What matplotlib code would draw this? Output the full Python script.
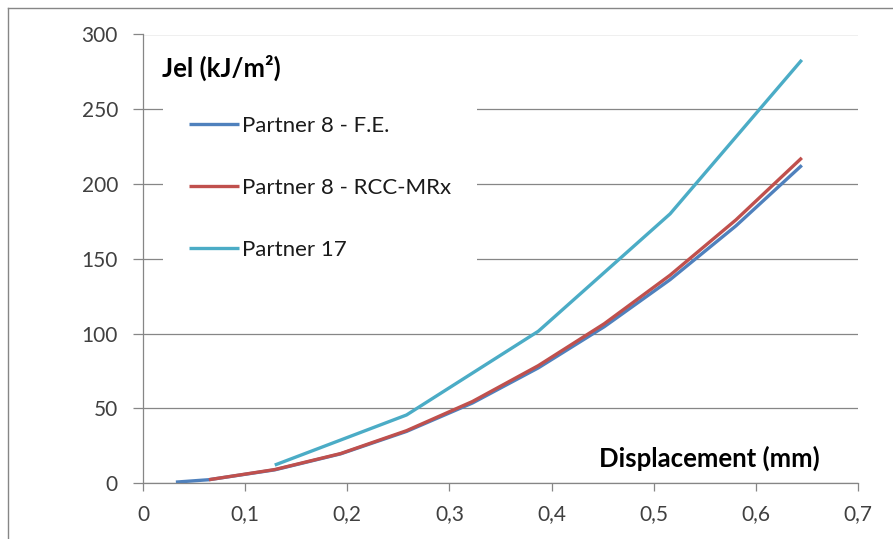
import matplotlib.pyplot as plt
from matplotlib import ticker
from matplotlib.lines import Line2D

# values
x_fe = [0.0322, 0.0645, 0.129, 0.1935, 0.258, 0.3225, 0.387, 0.4515, 0.516, 0.5805, 0.645]
y_fe = [0.6, 2.2, 8.8, 19.5, 34.5, 53.5, 77.0, 104.5, 136.0, 172.0, 212.5]

x_rcc = [0.0645, 0.129, 0.1935, 0.258, 0.3225, 0.387, 0.4515, 0.516, 0.5805, 0.645]
y_rcc = [2.2, 9.0, 19.7, 35.0, 54.5, 78.5, 106.5, 139.0, 176.0, 217.5]

x_p17 = [0.129, 0.258, 0.387, 0.516, 0.645]
y_p17 = [12.0, 45.5, 101.5, 180.0, 283.0]

x_ticks = [0, 0.1, 0.2, 0.3, 0.4, 0.5, 0.6, 0.7]
x_ticklabels = ["0", "0,1", "0,2", "0,3", "0,4", "0,5", "0,6", "0,7"]
y_ticks = [0, 50, 100, 150, 200, 250, 300]

plt.rcParams["font.family"] = ["Lato", "DejaVu Sans"]
grey = "#868686"
txt = "#404040"

fig = plt.figure(figsize=(8.93, 5.39), dpi=100)
ax = fig.add_axes([143 / 893, 1 - 483 / 539, 715 / 893, 448.5 / 539])

ax.plot(x_fe, y_fe, color="#4F81BD", lw=2.4, label="Partner 8 - F.E.", solid_capstyle="butt")
ax.plot(x_rcc, y_rcc, color="#C0504D", lw=2.4, label="Partner 8 - RCC-MRx", solid_capstyle="butt")
ax.plot(x_p17, y_p17, color="#4BACC6", lw=2.4, label="Partner 17", solid_capstyle="butt")

ax.set_xlim(0, 0.7)
ax.set_ylim(0, 300)
ax.set_xticks(x_ticks)
ax.xaxis.set_major_formatter(ticker.FixedFormatter(x_ticklabels))
ax.set_yticks(y_ticks)
ax.yaxis.grid(True, color=grey, lw=0.9)
ax.set_axisbelow(True)

for s in ["top", "right"]:
    ax.spines[s].set_visible(False)
for s in ["left", "bottom"]:
    ax.spines[s].set_color(grey)
    ax.spines[s].set_linewidth(0.9)
ax.tick_params(axis="y", length=7, width=0.9, color=grey, labelsize=15, labelcolor=txt, pad=11)
ax.tick_params(axis="x", length=5.5, width=0.9, color=grey, labelsize=15, labelcolor=txt, pad=10)

leg = ax.legend(
    loc="upper left",
    bbox_to_anchor=(20 / 715, (483 - 90) / 448.5),
    frameon=True,
    fancybox=False,
    facecolor="white",
    edgecolor="none",
    framealpha=1,
    fontsize=16,
    handlelength=2.25,
    handletextpad=0.15,
    labelspacing=1.9,
    borderpad=1.15,
    borderaxespad=0,
)
for t in leg.get_texts():
    t.set_color("#1a1a1a")

ax.text(19 / 715, (483 - 68) / 448.5, "Jel (kJ/m²)", transform=ax.transAxes,
        fontsize=18.5, fontweight="bold", va="center", ha="left", color="black")
ax.text((820 - 143) / 715, (483 - 458) / 448.5, "Displacement (mm)", transform=ax.transAxes,
        fontsize=18.5, fontweight="bold", va="center", ha="right", color="black")

# outer chart border (cropped on right and bottom)
fig.add_artist(Line2D([8 / 893, 8 / 893], [0, 1 - 8 / 539], color=grey, lw=1))
fig.add_artist(Line2D([8 / 893, 1], [1 - 8 / 539, 1 - 8 / 539], color=grey, lw=1))

fig.savefig("out.png", dpi=100)
